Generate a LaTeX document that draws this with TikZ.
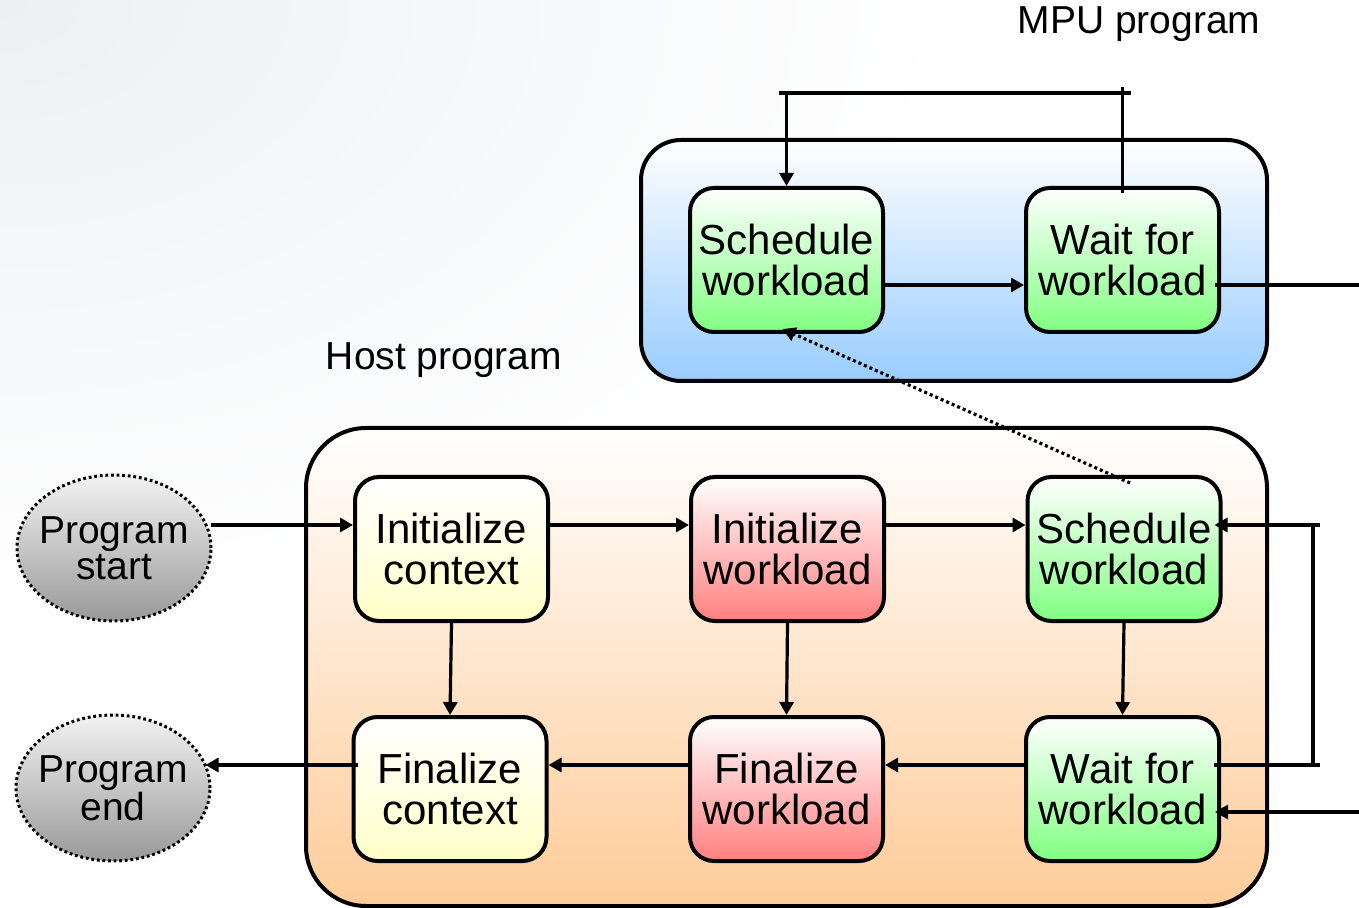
\documentclass[tikz,border=0pt]{standalone}
\usepackage{fontspec}
\setmainfont{Liberation Sans}
\usetikzlibrary{arrows.meta,calc,fadings,shapes.geometric}
\definecolor{gbot}{HTML}{80FF80}
\definecolor{rbot}{HTML}{FF7F7F}
\definecolor{ybot}{HTML}{FFFFC8}
\definecolor{bbot}{HTML}{99CCFF}
\definecolor{obot}{HTML}{FFCC99}
\definecolor{graybot}{HTML}{999999}
\definecolor{bgc}{HTML}{EDF0F3}
\tikzfading[name=bgfade, inner color=transparent!0, outer color=transparent!100]
\begin{document}
\begin{tikzpicture}[x=0.5pt,y=-0.5pt,
  box/.style={draw,line width=2pt,rounded corners=12pt,minimum width=96.5pt,
    minimum height=72pt,inner sep=0pt,align=center,
    font=\fontsize{21}{20.5}\selectfont},
  grnbox/.style={box,top color=white,bottom color=gbot},
  redbox/.style={box,top color=white,bottom color=rbot},
  ylwbox/.style={box,top color=white,bottom color=ybot},
  cont/.style={draw,line width=2pt,inner sep=0pt,top color=white},
  ell/.style={ellipse,draw,line width=1.5pt,dash pattern=on 1.4pt off 1.4pt,
    minimum width=97pt,minimum height=73pt,inner sep=0pt,
    top color=white!95!black,bottom color=graybot},
  elltext/.style={align=center,inner sep=0pt,font=\fontsize{19.5}{18}\selectfont},
  lbl/.style={font=\fontsize{19.5}{20}\selectfont,inner sep=0pt},
  ln/.style={line width=1.6pt},
  arr/.style={ln,-{Triangle[length=6.5pt,width=7pt]}},
  dotarr/.style={arr,line width=1.6pt,dash pattern=on 1.5pt off 1.5pt}]
\useasboundingbox (0,0) rectangle (1359,908);
% background
\begin{scope}
  \clip (0,0) rectangle (1359,908);
  \fill[bgc,path fading=bgfade] (-950,-620) rectangle (950,620);
\end{scope}
% containers
\node[cont,bottom color=bbot,minimum width=313pt,minimum height=120.5pt,rounded corners=20pt] (mpu) at (954,260.5) {};
\node[cont,bottom color=obot,minimum width=480.5pt,minimum height=239pt,rounded corners=30pt] (host) at (786.5,667) {};
% labels
\node[lbl] (mpulbl) at (1139,24) {MPU program};
\node[lbl] (hostlbl) at (444,360) {Host program};
% MPU boxes
\node[grnbox] (mswl) at (786.5,260) {Schedule\\workload};
\node[grnbox] (mwwl) at (1122.5,260) {Wait for\\workload};
% host boxes
\node[ylwbox] (ictx) at (451.5,549) {Initialize\\context};
\node[redbox] (iwl) at (787.5,549) {Initialize\\workload};
\node[grnbox] (swl) at (1124,549) {Schedule\\workload};
\node[ylwbox] (fctx) at (450,789) {Finalize\\context};
\node[redbox] (fwl) at (786.5,789) {Finalize\\workload};
\node[grnbox] (wwl) at (1122.5,789) {Wait for\\workload};
% terminals
\node[ell] (start) at (114,548) {};
\node[elltext] (starttxt) at (start) {Program\\start};
\node[ell] (end) at (113,788) {};
\node[elltext] (endtxt) at (end) {Program\\end};
% helper coordinates
\coordinate (r1) at (0,525);
\coordinate (r2) at (0,765);
\coordinate (r3) at (0,812);
\coordinate (mr) at (0,285);
\coordinate (mtop) at (0,93);
\coordinate (lp) at (1313,0);
\coordinate (ext1) at (1359,285);
\coordinate (ext2) at (1359,812);
% host row 1
\draw[arr] ($(start.east |- r1)+(-2,0)$) -- (ictx.west |- r1);
\draw[arr] (ictx.east |- r1) -- (iwl.west |- r1);
\draw[arr] (iwl.east |- r1) -- (swl.west |- r1);
% verticals
\draw[arr] (ictx.south) -- (fctx.north);
\draw[arr] (iwl.south) -- (fwl.north);
\draw[arr] (swl.south) -- (wwl.north);
% host row 2
\draw[arr] (wwl.west |- r2) -- (fwl.east |- r2);
\draw[arr] (fwl.west |- r2) -- (fctx.east |- r2);
\draw[arr] ($(fctx.west |- r2)+(6,0)$) -- ($(end.east |- r2)+(-6,0)$);
% host loop
\draw[ln] ($(wwl.east |- r2)+(-7,0)$) -- ($(lp |- r2)+(7,0)$);
\draw[ln] (lp |- r2) -- (lp |- r1);
\draw[arr] ($(lp |- r1)+(7,0)$) -- ($(swl.east |- r1)+(-8,0)$);
\draw[arr] (ext2) -- ($(wwl.east |- r3)+(-6,0)$);
% MPU
\draw[arr] (mswl.east |- mr) -- (mwwl.west |- mr);
\draw[ln] ($(mwwl.east |- mr)+(-6,0)$) -- (ext1);
\draw[ln] ($(mwwl.north)+(0,7)$) -- ($(mwwl.north |- mtop)+(0,-6)$);
\draw[ln] ($(mswl.north |- mtop)+(-8,0)$) -- ($(mwwl.north |- mtop)+(8,0)$);
\draw[arr] (mswl.north |- mtop) -- (mswl.north);
% dotted link
\draw[dotarr] ($(swl.north)+(6,8)$) -- ($(mswl.south)+(-4,-5)$);
\end{tikzpicture}
\end{document}
